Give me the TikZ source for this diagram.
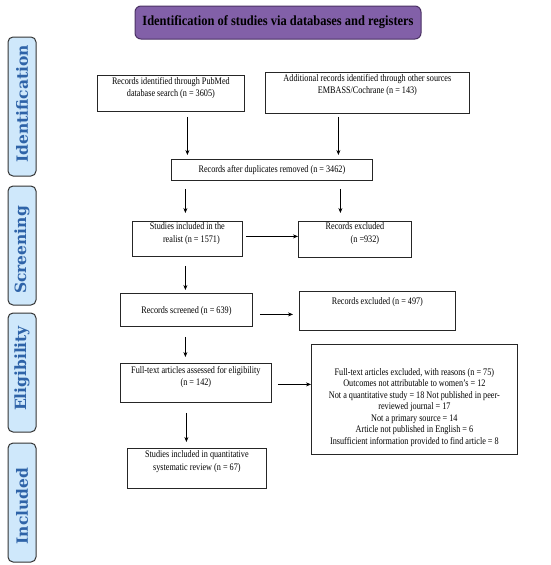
\documentclass[tikz,border=0pt]{standalone}
\usepackage{fontspec}
\setmainfont{Liberation Serif}
\newfontfamily\boxfont{Liberation Serif}[FakeStretch=0.82]
\newfontfamily\titlefont{Liberation Serif}[FakeStretch=0.89]
\newfontfamily\sidefont{DejaVu Serif}
\usetikzlibrary{arrows.meta}
\definecolor{sidefill}{RGB}{207,232,251}
\definecolor{sidetext}{RGB}{46,99,168}
\definecolor{titlefill}{RGB}{130,96,168}
\definecolor{titleline}{RGB}{75,50,100}
\newcommand{\pbx}[4]{\parbox[c][#2pt][t]{#1pt}{\centering\vspace*{#3pt}#4\par}}
\begin{document}
\begin{tikzpicture}[x=1pt,y=-1pt,
  boxn/.style={draw=black!85, line width=0.8pt, inner sep=0pt, anchor=north west,
    font=\boxfont\fontsize{10}{11.5}\selectfont},
  sidebox/.style={draw=black!80, fill=sidefill, rounded corners=5pt, line width=1pt,
    rotate=90, inner sep=0pt, minimum height=28pt, text=sidetext,
    font=\sidefont\bfseries\fontsize{15.5}{18}\selectfont},
  titlebox/.style={draw=titleline, fill=titlefill, rounded corners=6pt, line width=1pt,
    minimum width=286pt, minimum height=33pt, inner sep=0pt,
    font=\titlefont\bfseries\fontsize{14}{16}\selectfont},
  arr/.style={-{Stealth[length=5pt,width=4pt]}, line width=0.7pt, black}
]
\useasboundingbox (0,0) rectangle (550,565);

% title
\node[titlebox] (title) at (278,22.5) {Identification of studies via databases and registers};

% side labels
\node[sidebox, minimum width=139pt] (sid) at (22,106.5) {\hspace*{5pt}Identification};
\node[sidebox, minimum width=119pt] (sscr) at (22,245.5) {Screening\hspace*{9pt}};
\node[sidebox, minimum width=119pt] (selig) at (22,372.5) {\hspace*{8pt}Eligibility};
\node[sidebox, minimum width=119pt] (sinc) at (22,502.5) {Included\hspace*{7pt}};

% boxes
\node[boxn] (b1) at (97,75) {\pbx{147}{36}{2.5}{Records identified through PubMed\\database search (n = 3605)}};
\node[boxn] (b2) at (265,72) {\pbx{204}{41}{2.5}{Additional records identified through other sources\\EMBASS/Cochrane (n = 143)}};
\node[boxn] (b3) at (171,159) {\pbx{201}{21}{6}{Records after duplicates removed (n = 3462)}};
\node[boxn] (b4) at (132,221) {\pbx{110}{35}{1.5}{Studies included in the\\[1.5pt]\hspace*{8pt}realist (n = 1571)}};
\node[boxn] (b5) at (298,221) {\pbx{113}{36}{1.5}{Records excluded\\[1pt]\hspace*{20pt}(n =932)}};
\node[boxn] (b6) at (120,293) {\pbx{132}{33}{13}{Records screened (n = 639)}};
\node[boxn] (b7) at (299,291) {\pbx{156}{39}{6.5}{Records excluded (n = 497)}};
\node[boxn] (b8) at (120,363) {\pbx{151}{39}{3.5}{Full-text articles assessed for eligibility\\(n = 142)}};
\node[boxn] (b9) at (311,344) {\pbx{206}{110}{24}{Full-text articles excluded, with reasons (n = 75)\\
  Outcomes not attributable to women’s = 12\\
  Not a quantitative study = 18 Not published in peer-\\
  reviewed journal = 17\\
  Not a primary source = 14\\
  Article not published in English = 6\\
  Insufficient information provided to find article = 8}};
\node[boxn] (b10) at (127,448) {\pbx{139}{40}{2.5}{Studies included in quantitative\\[1pt]systematic review (n = 67)}};

% arrows
\draw[arr, shorten <=5pt, shorten >=4pt] ([xshift=16.5pt]b1.south) -- ([xshift=16.5pt]b1.south |- b3.north);
\draw[arr, shorten <=3pt, shorten >=4pt] ([xshift=-29pt]b2.south) -- ([xshift=-29pt]b2.south |- b3.north);
\draw[arr, shorten <=8pt, shorten >=8pt] ([xshift=-2pt]b4.north |- b3.south) -- ([xshift=-2pt]b4.north);
\draw[arr, shorten <=8pt, shorten >=8pt] ([xshift=-14.5pt]b5.north |- b3.south) -- ([xshift=-14.5pt]b5.north);
\draw[arr, shorten <=3pt, shorten >=0pt] ([yshift=2.5pt]b4.east) -- ([yshift=2.5pt]b4.east -| b5.west);
\draw[arr, shorten <=9pt, shorten >=3pt] ([xshift=-1pt]b6.north |- b4.south) -- ([xshift=-1pt]b6.north);
\draw[arr, shorten <=7pt, shorten >=6pt] ([yshift=-4.5pt]b6.east) -- ([yshift=-4.5pt]b6.east -| b7.west);
\draw[arr, shorten <=10pt, shorten >=6pt] ([xshift=-10.5pt]b8.north |- b6.south) -- ([xshift=-10.5pt]b8.north);
\draw[arr, shorten <=6pt, shorten >=0pt] ([yshift=-1.5pt]b8.east) -- ([yshift=-1.5pt]b8.east -| b9.west);
\draw[arr, shorten <=10pt, shorten >=6pt] ([xshift=-10.5pt]b10.north |- b8.south) -- ([xshift=-10.5pt]b10.north);
\end{tikzpicture}
\end{document}
